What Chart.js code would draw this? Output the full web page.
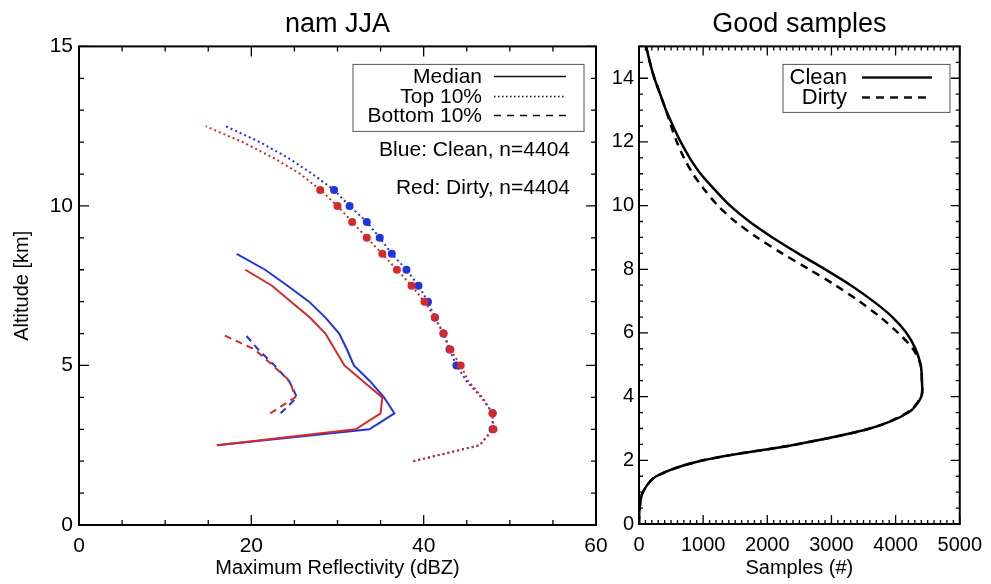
<!DOCTYPE html>
<html>
<head>
<meta charset="utf-8">
<script src="https://cdn.jsdelivr.net/npm/chart.js@4/dist/chart.umd.min.js"></script>
<style>
  html, body { margin: 0; padding: 0; background: #fff; }
  #wrap { position: relative; width: 991px; height: 584px; }
  #left { position: absolute; left: 0; top: 0; }
  #right { position: absolute; left: 600px; top: 0; }
</style>
</head>
<body>
<div id="wrap">
  <canvas id="left" width="620" height="584"></canvas>
  <canvas id="right" width="391" height="584"></canvas>
</div>
<script>
"use strict";

// ---- left panel: reflectivity profiles (x = dBZ, y = altitude km) ----
var medAlt   = [2.5, 3, 3.5, 4, 4.5, 5, 5.5, 6, 6.5, 7, 7.5, 8, 8.5];
var medClean = [16.0, 33.7, 36.6, 35.4, 33.8, 31.9, 31.1, 30.2, 28.6, 26.7, 24.2, 21.6, 18.3];
var medDirty = [16.0, 32.1, 35.0, 35.2, 33.0, 30.8, 29.7, 28.6, 26.8, 24.6, 22.4, 19.3, null];

var botAlt   = [3.5, 4, 4.5, 5, 5.5, 6];
var botClean = [23.4, 25.3, 24.4, 22.7, 20.8, 19.2];
var botDirty = [22.2, 25.1, 24.5, 22.5, 20.4, 16.4];

var topAlt   = [2, 2.5, 3, 3.5, 4, 4.5, 5, 5.5, 6, 6.5, 7, 7.5, 8, 8.5, 9, 9.5, 10, 10.5, 11, 11.5, 12, 12.5];
var topClean = [38.8, 46.5, 48.0, 48.0, 46.7, 45.0, 43.8, 43.0, 42.3, 41.3, 40.5, 39.4, 38.0, 36.3, 34.9, 33.4, 31.4, 29.6, 27.1, 24.3, 21.0, 17.0];
var topDirty = [38.8, 46.5, 48.1, 48.0, 46.8, 45.2, 44.3, 43.1, 42.3, 41.3, 40.1, 38.6, 36.9, 35.2, 33.4, 31.7, 30.0, 28.0, 25.7, 22.6, 19.0, 14.7];
var topSig   = [0, 0, 1, 1, 0, 0, 1, 1, 1, 1, 1, 1, 1, 1, 1, 1, 1, 1, 0, 0, 0, 0];

var leftXTicks = [0, 20, 40, 60];
var leftYTicks = [0, 5, 10, 15];

// ---- right panel: number of good samples per altitude ----
var sampAlt = [0, 0.5, 1, 1.5, 2, 2.5, 3, 3.5, 4, 4.5, 5, 5.5, 6, 6.5, 7, 7.5, 8, 8.5, 9, 9.5, 10,
               10.5, 11, 11.5, 12, 12.5, 13, 13.5, 14, 14.5, 15];
var cleanN = [0, 10, 60, 270, 1000, 2450, 3600, 4200, 4400, 4410, 4390, 4310, 4170, 3950, 3650, 3300, 2900, 2480, 2080, 1720, 1420,
              1180, 960, 790, 650, 530, 420, 330, 240, 170, 110];
var dirtyN = [0, 10, 60, 270, 1000, 2450, 3600, 4180, 4400, 4410, 4390, 4270, 4040, 3760, 3430, 3060, 2650, 2230, 1840, 1500, 1230,
              1020, 840, 700, 590, 500, 420, 330, 240, 170, 110];

var rightXTicks = [0, 1000, 2000, 3000, 4000, 5000];
var rightYTicks = [0, 2, 4, 6, 8, 10, 12, 14];

var BLUE = '#2233e0';
var RED = '#d42a2a';

Chart.defaults.font.family = "'Liberation Sans', Arial, Helvetica, sans-serif";
Chart.defaults.color = '#000';

function pts(xs, ys) {
    var out = [];
    for (var i = 0; i < xs.length; i++) {
        if (xs[i] !== null) out.push({x: xs[i], y: ys[i]});
    }
    return out;
}

function fixedTicks(list) {
    return function (scale) {
        scale.ticks = list.map(function (v) { return {value: v}; });
    };
}

function plainLabel(v) { return String(v); }

// IDL-style frame with inward ticks on all four sides
var frameTicks = {
    id: 'frameTicks',
    afterDatasetsDraw: function (chart, args, o) {
        var ctx = chart.ctx, a = chart.chartArea;
        var x = chart.scales.x, y = chart.scales.y;
        ctx.save();
        ctx.strokeStyle = '#000';
        ctx.lineWidth = 1.3;
        ctx.beginPath();
        var n = Math.round((x.max - x.min) / o.xMinor);
        for (var i = 0; i <= n; i++) {
            var v = x.min + i * o.xMinor;
            var len = Math.abs(v / o.xMajor - Math.round(v / o.xMajor)) < 1e-6 ? o.major : o.minor;
            var px = x.getPixelForValue(v);
            ctx.moveTo(px, a.bottom); ctx.lineTo(px, a.bottom - len);
            ctx.moveTo(px, a.top); ctx.lineTo(px, a.top + len);
        }
        n = Math.round((y.max - y.min) / o.yMinor);
        for (var j = 0; j <= n; j++) {
            var w = y.min + j * o.yMinor;
            var l2 = Math.abs(w / o.yMajor - Math.round(w / o.yMajor)) < 1e-6 ? o.major : o.minor;
            var py = y.getPixelForValue(w);
            ctx.moveTo(a.left, py); ctx.lineTo(a.left + l2, py);
            ctx.moveTo(a.right, py); ctx.lineTo(a.right - l2, py);
        }
        ctx.stroke();
        ctx.lineWidth = 2;
        ctx.strokeRect(a.left, a.top, a.right - a.left, a.bottom - a.top);
        ctx.restore();
    }
};

// legend box: text right-aligned, line sample to the right of it
var boxLegend = {
    id: 'boxLegend',
    afterDraw: function (chart, args, o) {
        var ctx = chart.ctx, a = chart.chartArea;
        ctx.save();
        var bx = a.left + o.box[0], by = a.top + o.box[1];
        ctx.strokeStyle = '#555';
        ctx.lineWidth = 1;
        ctx.strokeRect(bx, by, o.box[2], o.box[3]);
        ctx.font = o.size + "px 'Liberation Sans', Arial, sans-serif";
        ctx.textAlign = 'right';
        ctx.textBaseline = 'middle';
        ctx.fillStyle = '#000';
        o.rows.forEach(function (r, i) {
            var ty = by + o.rowY[i];
            ctx.fillText(r.text, bx + o.textRight, ty + 1);
            ctx.beginPath();
            ctx.setLineDash(r.dash);
            ctx.lineWidth = r.width;
            ctx.strokeStyle = '#111';
            ctx.moveTo(bx + o.line[0], ty);
            ctx.lineTo(bx + o.line[1], ty);
            ctx.stroke();
        });
        ctx.setLineDash([]);
        (o.notes || []).forEach(function (nt) {
            ctx.fillText(nt.text, bx + nt.x, by + nt.y);
        });
        ctx.restore();
    }
};

function lineSet(data, color, dash, order, extra) {
    var ds = {
        data: data,
        borderColor: color,
        backgroundColor: color,
        borderWidth: 2,
        borderDash: dash,
        pointRadius: 0,
        tension: 0,
        order: order
    };
    for (var k in extra) ds[k] = extra[k];
    return ds;
}

var dotRadius = topSig.map(function (s) { return s ? 4 : 0; });

new Chart(document.getElementById('left').getContext('2d'), {
    type: 'line',
    data: {
        datasets: [
            lineSet(pts(medClean, medAlt), BLUE, [], 2),
            lineSet(pts(botClean, botAlt), BLUE, [7, 5], 2),
            lineSet(pts(topClean, topAlt), BLUE, [2, 3], 2, {pointRadius: dotRadius, pointBorderWidth: 0}),
            lineSet(pts(medDirty, medAlt), RED, [], 1),
            lineSet(pts(botDirty, botAlt), RED, [7, 5], 1),
            lineSet(pts(topDirty, topAlt), RED, [2, 3], 1, {pointRadius: dotRadius, pointBorderWidth: 0})
        ]
    },
    options: {
        responsive: false,
        animation: false,
        layout: {padding: {left: 0, right: 24, top: 0, bottom: 0}},
        plugins: {
            legend: {display: false},
            tooltip: {enabled: false},
            title: {
                display: true,
                text: 'nam JJA',
                fullSize: false,
                font: {size: 27, weight: 'normal'},
                padding: {top: 8, bottom: 6}
            },
            frameTicks: {xMinor: 5, xMajor: 20, yMinor: 1, yMajor: 5, major: 10, minor: 5},
            boxLegend: {
                box: [274, 18, 231, 67],
                size: 21,
                textRight: 129,
                line: [141, 213],
                rowY: [12, 32, 51],
                rows: [
                    {text: 'Median', dash: [], width: 1.5},
                    {text: 'Top 10%', dash: [1.5, 2.5], width: 1.5},
                    {text: 'Bottom 10%', dash: [7, 6], width: 1.5}
                ],
                notes: [
                    {text: 'Blue: Clean, n=4404', x: 217, y: 86},
                    {text: 'Red: Dirty, n=4404', x: 217, y: 124}
                ]
            }
        },
        scales: {
            x: {
                type: 'linear',
                min: 0,
                max: 60,
                afterBuildTicks: fixedTicks(leftXTicks),
                afterFit: function (s) { s.height = 59; },
                grid: {display: false, drawTicks: false},
                border: {display: false},
                ticks: {font: {size: 21}, padding: 9, maxRotation: 0, callback: plainLabel},
                title: {display: true, text: 'Maximum Reflectivity (dBZ)', font: {size: 20}, padding: {top: 0, bottom: 4}}
            },
            y: {
                type: 'linear',
                min: 0,
                max: 15,
                afterBuildTicks: fixedTicks(leftYTicks),
                afterFit: function (s) { s.width = 79; },
                grid: {display: false, drawTicks: false},
                border: {display: false},
                ticks: {font: {size: 21}, padding: 6, callback: plainLabel},
                title: {display: true, text: 'Altitude [km]', font: {size: 20}, padding: {top: 10, bottom: 0}}
            }
        }
    },
    plugins: [frameTicks, boxLegend]
});

new Chart(document.getElementById('right').getContext('2d'), {
    type: 'line',
    data: {
        datasets: [
            lineSet(pts(cleanN, sampAlt), '#000', [], 1, {borderWidth: 2.5, tension: 0.3}),
            lineSet(pts(dirtyN, sampAlt), '#000', [8, 6], 0, {borderWidth: 2.5, tension: 0.3})
        ]
    },
    options: {
        responsive: false,
        animation: false,
        layout: {padding: {left: 0, right: 29, top: 0, bottom: 0}},
        plugins: {
            legend: {display: false},
            tooltip: {enabled: false},
            title: {
                display: true,
                text: 'Good samples',
                fullSize: false,
                font: {size: 27, weight: 'normal'},
                padding: {top: 8, bottom: 6}
            },
            frameTicks: {xMinor: 100, xMajor: 1000, yMinor: 0.5, yMajor: 2, major: 9, minor: 4},
            boxLegend: {
                box: [144, 18, 167, 48],
                size: 22,
                textRight: 64,
                line: [79, 149],
                rowY: [13, 33],
                rows: [
                    {text: 'Clean', dash: [], width: 2.5},
                    {text: 'Dirty', dash: [8, 6], width: 2.5}
                ]
            }
        },
        scales: {
            x: {
                type: 'linear',
                min: 0,
                max: 5000,
                afterBuildTicks: fixedTicks(rightXTicks),
                afterFit: function (s) { s.height = 60; },
                grid: {display: false, drawTicks: false},
                border: {display: false},
                ticks: {font: {size: 20}, padding: 9, maxRotation: 0, callback: plainLabel},
                title: {display: true, text: 'Samples (#)', font: {size: 20}, padding: {top: 0, bottom: 4}}
            },
            y: {
                type: 'linear',
                min: 0,
                max: 15,
                afterBuildTicks: fixedTicks(rightYTicks),
                afterFit: function (s) { s.width = 39; },
                grid: {display: false, drawTicks: false},
                border: {display: false},
                ticks: {font: {size: 20}, padding: 5, callback: plainLabel}
            }
        }
    },
    plugins: [frameTicks, boxLegend]
});
</script>
</body>
</html>
